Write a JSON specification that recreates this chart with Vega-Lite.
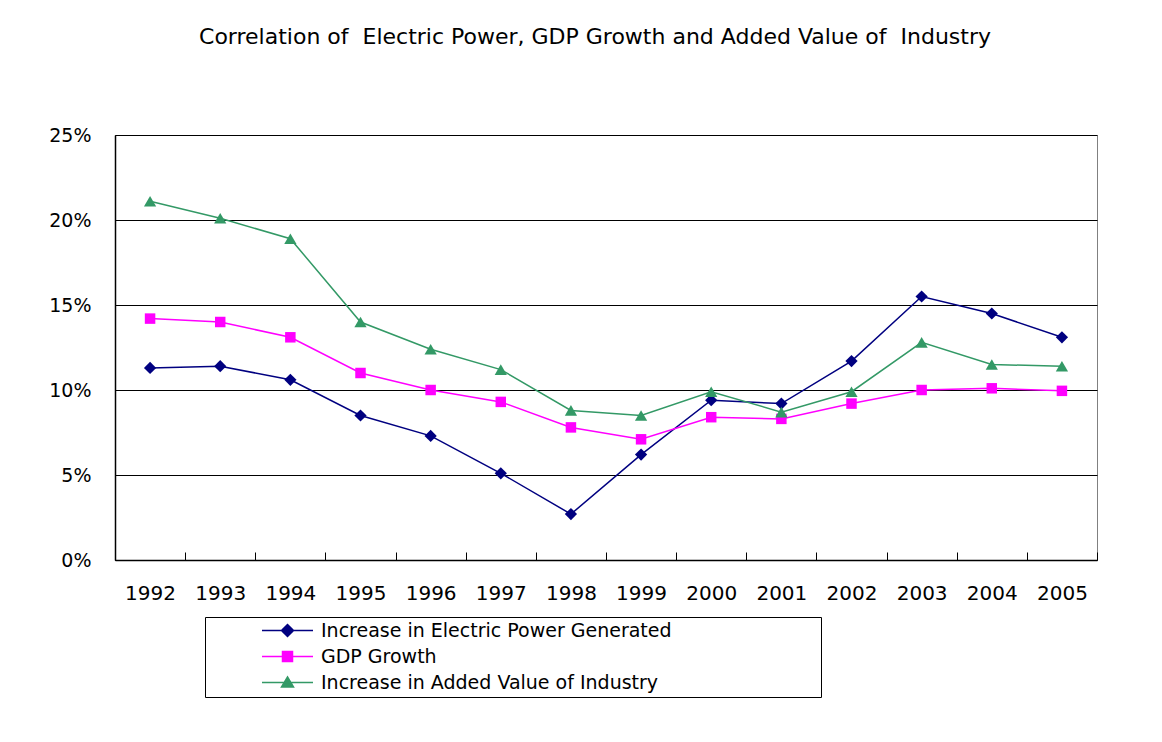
{
  "$schema": "https://vega.github.io/schema/vega-lite/v6.json",
  "width": 982,
  "height": 425,
  "autosize": {"type": "none"},
  "padding": {"left": 115, "top": 135, "right": 65, "bottom": 182},
  "background": "white",
  "title": {
    "text": "Correlation of\u00a0 Electric Power, GDP Growth and Added Value of\u00a0 Industry",
    "font": "DejaVu Sans",
    "fontSize": 22,
    "fontWeight": "normal",
    "color": "black",
    "anchor": "middle",
    "offset": 77,
    "dx": -11
  },
  "config": {
    "view": {"stroke": "#808080", "strokeWidth": 1},
    "font": "DejaVu Sans"
  },
  "data": {
    "values": [
      {"year": "1992", "series": "Increase in Electric Power Generated", "value": 11.3},
      {"year": "1993", "series": "Increase in Electric Power Generated", "value": 11.4},
      {"year": "1994", "series": "Increase in Electric Power Generated", "value": 10.6},
      {"year": "1995", "series": "Increase in Electric Power Generated", "value": 8.5},
      {"year": "1996", "series": "Increase in Electric Power Generated", "value": 7.3},
      {"year": "1997", "series": "Increase in Electric Power Generated", "value": 5.1},
      {"year": "1998", "series": "Increase in Electric Power Generated", "value": 2.7},
      {"year": "1999", "series": "Increase in Electric Power Generated", "value": 6.2},
      {"year": "2000", "series": "Increase in Electric Power Generated", "value": 9.4},
      {"year": "2001", "series": "Increase in Electric Power Generated", "value": 9.2},
      {"year": "2002", "series": "Increase in Electric Power Generated", "value": 11.7},
      {"year": "2003", "series": "Increase in Electric Power Generated", "value": 15.5},
      {"year": "2004", "series": "Increase in Electric Power Generated", "value": 14.5},
      {"year": "2005", "series": "Increase in Electric Power Generated", "value": 13.1},
      {"year": "1992", "series": "GDP Growth", "value": 14.2},
      {"year": "1993", "series": "GDP Growth", "value": 14.0},
      {"year": "1994", "series": "GDP Growth", "value": 13.1},
      {"year": "1995", "series": "GDP Growth", "value": 11.0},
      {"year": "1996", "series": "GDP Growth", "value": 10.0},
      {"year": "1997", "series": "GDP Growth", "value": 9.3},
      {"year": "1998", "series": "GDP Growth", "value": 7.8},
      {"year": "1999", "series": "GDP Growth", "value": 7.1},
      {"year": "2000", "series": "GDP Growth", "value": 8.4},
      {"year": "2001", "series": "GDP Growth", "value": 8.3},
      {"year": "2002", "series": "GDP Growth", "value": 9.2},
      {"year": "2003", "series": "GDP Growth", "value": 10.0},
      {"year": "2004", "series": "GDP Growth", "value": 10.1},
      {"year": "2005", "series": "GDP Growth", "value": 9.95},
      {"year": "1992", "series": "Increase in Added Value of Industry", "value": 21.1},
      {"year": "1993", "series": "Increase in Added Value of Industry", "value": 20.1},
      {"year": "1994", "series": "Increase in Added Value of Industry", "value": 18.9},
      {"year": "1995", "series": "Increase in Added Value of Industry", "value": 14.0},
      {"year": "1996", "series": "Increase in Added Value of Industry", "value": 12.4},
      {"year": "1997", "series": "Increase in Added Value of Industry", "value": 11.2},
      {"year": "1998", "series": "Increase in Added Value of Industry", "value": 8.8},
      {"year": "1999", "series": "Increase in Added Value of Industry", "value": 8.5},
      {"year": "2000", "series": "Increase in Added Value of Industry", "value": 9.9},
      {"year": "2001", "series": "Increase in Added Value of Industry", "value": 8.7},
      {"year": "2002", "series": "Increase in Added Value of Industry", "value": 9.9},
      {"year": "2003", "series": "Increase in Added Value of Industry", "value": 12.8},
      {"year": "2004", "series": "Increase in Added Value of Industry", "value": 11.5},
      {"year": "2005", "series": "Increase in Added Value of Industry", "value": 11.4}
    ]
  },
  "encoding": {
    "x": {
      "field": "year",
      "type": "ordinal",
      "scale": {"type": "band", "paddingInner": 0, "paddingOuter": 0},
      "axis": {
        "title": null,
        "labelAngle": 0,
        "labelFont": "DejaVu Sans",
        "labelFontSize": 20,
        "labelColor": "black",
        "labelPadding": 31,
        "tickBand": "extent",
        "tickSize": -8,
        "tickColor": "black",
        "tickWidth": 1,
        "domainColor": "black",
        "domainWidth": 1.5,
        "grid": false
      }
    },
    "y": {
      "field": "value",
      "type": "quantitative",
      "scale": {"domain": [0, 25], "nice": false},
      "axis": {
        "title": null,
        "values": [0, 5, 10, 15, 20, 25],
        "labelExpr": "datum.value + '%'",
        "labelFont": "DejaVu Sans",
        "labelFontSize": 19,
        "labelColor": "black",
        "labelPadding": 32,
        "tickSize": -8,
        "tickColor": "black",
        "domainColor": "black",
        "domainWidth": 1.5,
        "grid": true,
        "gridColor": "black",
        "gridWidth": 1,
        "gridOpacity": 1
      }
    },
    "color": {
      "field": "series",
      "type": "nominal",
      "scale": {
        "domain": ["Increase in Electric Power Generated", "GDP Growth", "Increase in Added Value of Industry"],
        "range": ["#000080", "#FF00FF", "#339966"]
      },
      "legend": {
        "orient": "none",
        "legendX": 90,
        "legendY": 482,
        "title": " ",
        "titleOrient": "left",
        "titleFontSize": 10,
        "titlePadding": 69,
        "strokeColor": "black",
        "fillColor": "white",
        "padding": 4,
        "rowPadding": 6,
        "labelFont": "DejaVu Sans",
        "labelFontSize": 19,
        "labelColor": "black",
        "labelLimit": 900,
        "labelOffset": 24,
        "symbolSize": 100,
        "symbolStrokeWidth": 1.5,
        "labelExpr": "datum.label + '\u00a0\u00a0\u00a0\u00a0\u00a0\u00a0\u00a0\u00a0\u00a0\u00a0\u00a0\u00a0\u00a0\u00a0\u00a0\u00a0\u00a0\u00a0\u00a0\u00a0\u00a0\u00a0\u00a0\u00a0\u200b'",
        "encode": {
          "symbols": {
            "update": {
              "shape": {"signal": "datum.value === 'GDP Growth' ? 'M-5.1,0H5.1M-1,-1H1V1H-1Z' : (datum.value === 'Increase in Added Value of Industry' ? 'M-5.1,0H5.1M0,-1.1L1.2,0.9H-1.2Z' : 'M-5.1,0H5.1M0,-1.2L1.2,0L0,1.2L-1.2,0Z')"},
              "strokeWidth": {"value": 1.5},
              "opacity": {"value": 1}
            }
          }
        }
      }
    }
  },
  "layer": [
    {"mark": {"type": "line", "strokeWidth": 1.5}},
    {
      "transform": [{"filter": "datum.series === 'Increase in Electric Power Generated'"}],
      "mark": {"type": "point", "filled": true, "opacity": 1, "shape": "diamond", "size": 150}
    },
    {
      "transform": [{"filter": "datum.series === 'GDP Growth'"}],
      "mark": {"type": "point", "filled": true, "opacity": 1, "shape": "square", "size": 110}
    },
    {
      "transform": [{"filter": "datum.series === 'Increase in Added Value of Industry'"}],
      "mark": {"type": "point", "filled": true, "opacity": 1, "shape": "triangle-up", "size": 150}
    }
  ]
}
